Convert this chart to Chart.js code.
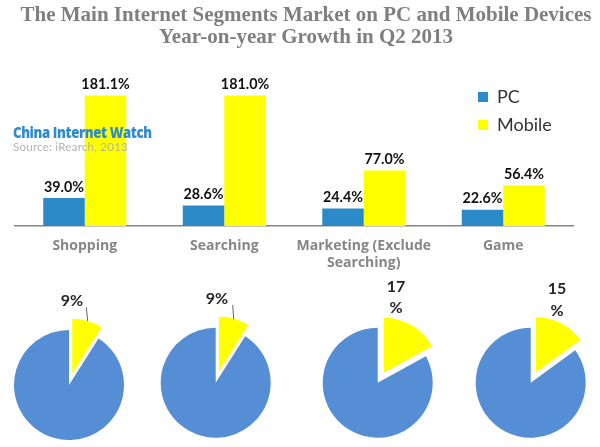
<!DOCTYPE html>
<html><head><meta charset="utf-8">
<style>
html,body{margin:0;padding:0;width:600px;height:447px;overflow:hidden;background:#fff}
#main{position:absolute;left:0;top:0}
.pie{position:absolute}
.wm{position:absolute;left:13px;white-space:nowrap;pointer-events:none}
#wm1{top:121px;font:800 15.5px "Open Sans",sans-serif;color:#2e8bc9;letter-spacing:-.45px;transform:scaleX(.85);transform-origin:left}
#wm2{top:140px;font:11.5px Lato,sans-serif;color:#a6a6a6;letter-spacing:.25px;opacity:.85}
</style>
<script src="https://cdn.jsdelivr.net/npm/chart.js@4/dist/chart.umd.min.js"></script>
</head><body>
<canvas id="main" width="600" height="447"></canvas>
<div class="wm" id="wm1">China Internet Watch</div>
<div class="wm" id="wm2">Source: iRearch, 2013</div>
<script>
const titleLines = ['The Main Internet Segments Market on PC and Mobile Devices','Year-on-year Growth in Q2 2013'];
const categories = ['Shopping','Searching',['Marketing (Exclude','Searching)'],'Game'];
const pcValues = [39.0,28.6,24.4,22.6];
const mobileValues = [181.1,181.0,77.0,56.4];
const mobileShares = [9,9,17,15];

const BLUE='#2b8bc9', YELLOW='#ffff00', PIEBLUE='#558ed5';

const valueLabels = {
  id:'valueLabels',
  afterDatasetsDraw(c){
    const g=c.ctx; g.save();
    g.font='bold 14.3px Lato, sans-serif'; g.fillStyle='#111'; g.textAlign='center'; g.textBaseline='middle';
    c.data.datasets.forEach((ds,i)=>c.getDatasetMeta(i).data.forEach((b,j)=>{
      g.fillText(ds.data[j].toFixed(1)+'%', b.x, b.y-11);
    }));
    g.restore();
  }
};
const placeBoxes = {
  id:'placeBoxes',
  beforeDraw(c){
    const l=c.legend; l.left=468; l.right=590; l.top=78; l.bottom=200;
    const t=c.titleBlock; t.left=12; t.right=600;
  }
};
new Chart(document.getElementById('main'),{
  type:'bar',
  data:{labels:categories,datasets:[
    {label:'PC',data:pcValues,backgroundColor:BLUE,categoryPercentage:.595,barPercentage:1},
    {label:'Mobile',data:mobileValues,backgroundColor:YELLOW,categoryPercentage:.595,barPercentage:1}
  ]},
  options:{
    responsive:false,animation:false,devicePixelRatio:1,
    layout:{padding:{left:15,right:27,top:0,bottom:0}},
    plugins:{
      title:{display:true,text:titleLines,color:'#7f7f7f',font:{family:'"Liberation Serif",serif',size:21,weight:'bold',lineHeight:1.02},padding:{top:5,bottom:34}},
      legend:{position:'chartArea',align:'start',labels:{boxWidth:10,boxHeight:10,padding:10,color:'#333',font:{family:'Lato, sans-serif',size:18}}},
      tooltip:{enabled:false}
    },
    scales:{
      x:{grid:{display:false,drawTicks:false},border:{color:'#868686',width:1.5},
         afterFit(s){s.height=221},
         ticks:{color:'#868686',padding:11,maxRotation:0,autoSkip:false,font:{family:'"Open Sans",sans-serif',size:14,weight:'bold',lineHeight:1.22}}},
      y:{display:false,min:0,max:200}
    }
  },
  plugins:[valueLabels,placeBoxes]
});

const pieCenters=[[69,385],[215.7,382.7],[377.7,382.7],[530.7,382.7]];
const pieNotes=[
  {lines:['9%'],at:[3,-84],leader:[[17.3,-77.7],[18.7,-64]]},
  {lines:['9%'],at:[1.3,-83.4],leader:[[17,-77.7],[18,-63.4]]},
  {lines:['17','%'],at:[18.3,-96],leader:null},
  {lines:['15','%'],at:[26.3,-93.7],leader:null}
];
const W=160,H=182,TOP=266,S=110,EXPLODE=11.7;
mobileShares.forEach((share,i)=>{
  const [cx,cy]=pieCenters[i], note=pieNotes[i];
  const cv=document.createElement('canvas');
  cv.className='pie'; cv.width=W; cv.height=H;
  const left=Math.round(cx-W/2);
  cv.style.left=left+'px'; cv.style.top=TOP+'px';
  document.body.appendChild(cv);
  const padL=cx-left-S/2, padT=cy-TOP-S/2;
  new Chart(cv,{
    type:'pie',
    data:{labels:['Mobile','PC'],datasets:[{data:[share,100-share],backgroundColor:[YELLOW,PIEBLUE],borderWidth:0}]},
    options:{
      responsive:false,animation:false,devicePixelRatio:1,
      layout:{padding:{left:padL,right:W-padL-S,top:padT,bottom:H-padT-S}},
      plugins:{legend:{display:false},tooltip:{enabled:false}}
    },
    plugins:[{
      id:'pieNote',
      beforeDatasetsDraw(c){
        const arc=c.getDatasetMeta(0).data[0];
        if(arc.__exploded) return;
        arc.__exploded=true;
        const base=arc.draw;
        arc.draw=function(ctx,area){
          const mid=(this.startAngle+this.endAngle)/2;
          ctx.save();
          ctx.translate(Math.cos(mid)*EXPLODE,Math.sin(mid)*EXPLODE);
          base.call(this,ctx,area);
          ctx.restore();
        };
      },
      afterDatasetsDraw(c){
        const g=c.ctx, a=c.getDatasetMeta(0).data[1], ox=a.x, oy=a.y;
        g.save();
        if(note.leader){
          g.strokeStyle='#404040'; g.lineWidth=.8; g.beginPath();
          g.moveTo(ox+note.leader[0][0],oy+note.leader[0][1]);
          g.lineTo(ox+note.leader[1][0],oy+note.leader[1][1]); g.stroke();
        }
        g.fillStyle='#262626'; g.textAlign='center'; g.textBaseline='middle';
        g.font='bold 16px Lato, sans-serif';
        note.lines.forEach((t,k)=>g.fillText(t,ox+note.at[0],oy+note.at[1]+k*21.5));
        g.restore();
      }
    }]
  });
});
</script>
</body></html>
